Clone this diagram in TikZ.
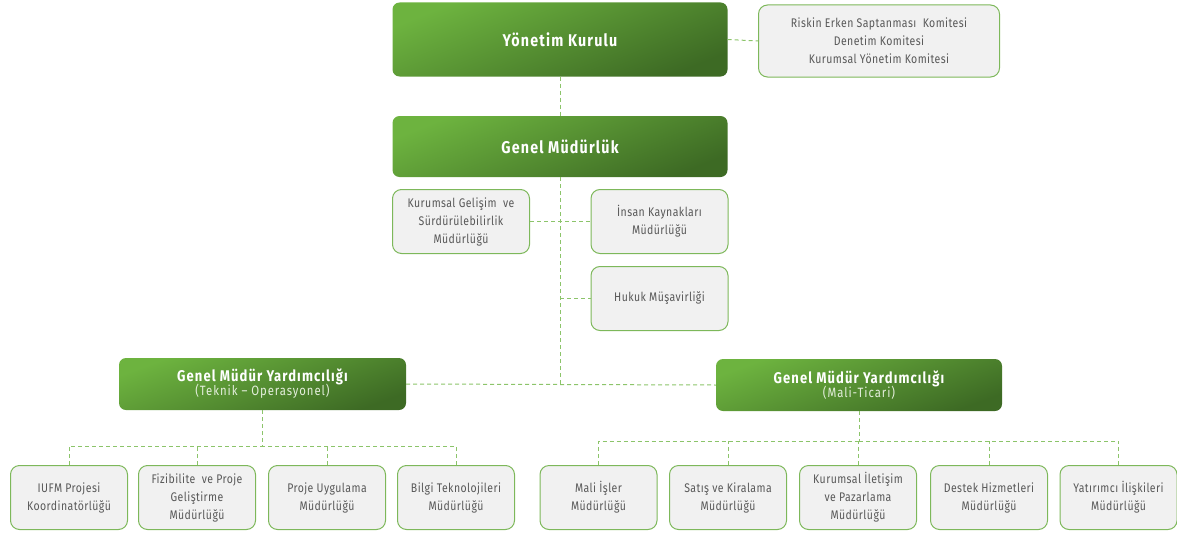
\documentclass[tikz,border=0pt]{standalone}
\usepackage{fontspec}
\setmainfont{Fira Sans}[FakeStretch=0.84, LetterSpace=3.5]
\newfontfamily\titlefont{Fira Sans}[FakeStretch=0.84, LetterSpace=7]
\definecolor{gL}{HTML}{6DB33F}
\definecolor{gM}{HTML}{60A238}
\definecolor{gD}{HTML}{3D6A24}
\definecolor{bdr}{HTML}{7DB85A}
\definecolor{boxfill}{HTML}{F1F1F1}
\definecolor{txt}{HTML}{585858}
\definecolor{subtxt}{HTML}{E4EEDC}
\definecolor{dsh}{HTML}{8CC46A}
\begin{document}
\begin{tikzpicture}[x=1pt,y=-1pt,
  greenbox/.style={rectangle, rounded corners=7pt, draw=none, top color=gL, middle color=gM, bottom color=gD, shading angle=22,
    text=white, align=center, inner sep=0pt},
  subbox/.style={rectangle, rounded corners=9pt, draw=bdr, line width=1pt, fill=boxfill, text=txt,
    align=center, inner sep=0pt, font=\fontsize{12.5}{18}\selectfont},
  leaf/.style={subbox, minimum width=117pt, minimum height=64pt},
  bigtitle/.style={font=\titlefont\fontsize{17}{20}\selectfont\bfseries},
  conn/.style={draw=dsh, line width=1pt, dash pattern=on 4pt off 3pt}]
\useasboundingbox (0,0) rectangle (1177,535);

\node[greenbox, bigtitle, minimum width=335pt, minimum height=74pt] (yk) at (560,39.5) {Yönetim Kurulu};
\node[subbox, minimum width=241pt, minimum height=72pt] (kom) at (879,41) {Riskin Erken Saptanması\ \ Komitesi\\Denetim Komitesi\\Kurumsal Yönetim Komitesi};
\node[greenbox, bigtitle, minimum width=335pt, minimum height=61pt] (gm) at (560,146.5) {Genel Müdürlük};

\node[subbox, minimum width=137pt, minimum height=64pt] (kg) at (461,221.5) {Kurumsal Gelişim\ \ ve\\Sürdürülebilirlik\\Müdürlüğü};
\node[subbox, minimum width=137pt, minimum height=64pt] (ik) at (659.5,221.5) {İnsan Kaynakları\\Müdürlüğü};
\node[subbox, minimum width=137pt, minimum height=64pt] (hm) at (659.5,298.5) {Hukuk Müşavirliği};

\node[greenbox, minimum width=287pt, minimum height=52pt, shading angle=20] (gl) at (262.5,384) {{\titlefont\fontsize{15.5}{18}\selectfont\bfseries Genel Müdür Yardımcılığı}\\[-2pt]{\color{subtxt}\titlefont\fontsize{13.5}{15}\selectfont (Teknik – Operasyonel)}};
\node[greenbox, minimum width=286pt, minimum height=52pt, shading angle=20] (gr) at (859,385) {{\titlefont\fontsize{15.5}{18}\selectfont\bfseries Genel Müdür Yardımcılığı}\\[-2pt]{\color{subtxt}\titlefont\fontsize{13.5}{15}\selectfont (Mali-Ticari)}};

\node[leaf] (l1) at (69,497.5) {IUFM Projesi\\Koordinatörlüğü};
\node[leaf] (l2) at (197,497.5) {Fizibilite\ \ ve Proje\\Geliştirme\\Müdürlüğü};
\node[leaf] (l3) at (327,497.5) {Proje Uygulama\\Müdürlüğü};
\node[leaf] (l4) at (456,497.5) {Bilgi Teknolojileri\\Müdürlüğü};

\node[leaf] (r1) at (598.5,497.5) {Mali İşler\\Müdürlüğü};
\node[leaf] (r2) at (728,497.5) {Satış ve Kiralama\\Müdürlüğü};
\node[leaf] (r3) at (858,497.5) {Kurumsal İletişim\\ve Pazarlama\\Müdürlüğü};
\node[leaf] (r4) at (989,497.5) {Destek Hizmetleri\\Müdürlüğü};
\node[leaf] (r5) at (1118.5,497.5) {Yatırımcı İlişkileri\\Müdürlüğü};

\coordinate (jm) at (560,385);
\coordinate (jh) at (560,298.5);
\coordinate (jl) at (262.5,446);
\coordinate (jr) at (859,441);

\draw[conn] (yk.east) -- (kom.west);
\draw[conn] (yk.south) -- (gm.north);
\draw[conn] (gm.south) -- (jm);
\draw[conn] (kg.east) -- (ik.west);
\draw[conn] (jh) -- (hm.west);
\draw[conn] (gl.east) -- (gr.west);

\draw[conn] (gl.south) -- (jl);
\draw[conn] (l1.north) |- (jl);
\draw[conn] (l4.north) |- (jl);
\draw[conn] (l2.north) -- (l2.north |- jl);
\draw[conn] (l3.north) -- (l3.north |- jl);

\draw[conn] (gr.south) -- (jr);
\draw[conn] (r1.north) |- (jr);
\draw[conn] (r5.north) |- (jr);
\draw[conn] (r2.north) -- (r2.north |- jr);
\draw[conn] (r3.north) -- (r3.north |- jr);
\draw[conn] (r4.north) -- (r4.north |- jr);
\end{tikzpicture}
\end{document}
